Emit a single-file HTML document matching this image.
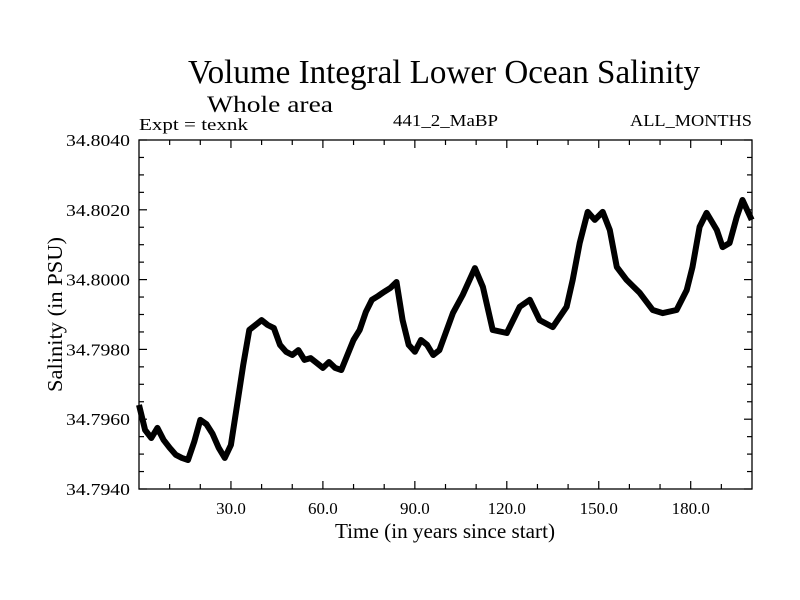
<!DOCTYPE html>
<html><head><meta charset="utf-8"><style>
body{margin:0;background:#fff;}
svg{display:block;font-family:"Liberation Serif",serif;}
</style></head><body>
<svg id="chart" width="800" height="600">
<text x="444" y="83" font-size="34" text-anchor="middle" textLength="512" lengthAdjust="spacingAndGlyphs">Volume Integral Lower Ocean Salinity</text>
<text x="207" y="112" font-size="23" textLength="126" lengthAdjust="spacingAndGlyphs">Whole area</text>
<text x="139" y="130" font-size="17" textLength="109" lengthAdjust="spacingAndGlyphs">Expt = texnk</text>
<text x="393" y="126" font-size="17" textLength="105" lengthAdjust="spacingAndGlyphs">441_2_MaBP</text>
<text x="630" y="126" font-size="17" textLength="122" lengthAdjust="spacingAndGlyphs">ALL_MONTHS</text>
<text x="335" y="538" font-size="21" textLength="220" lengthAdjust="spacingAndGlyphs">Time (in years since start)</text>
<text transform="translate(62,392) rotate(-90)" font-size="21" textLength="155" lengthAdjust="spacingAndGlyphs">Salinity (in PSU)</text>
<g id="axes"></g>
<path id="series" fill="none" stroke="#000" stroke-width="6" stroke-linejoin="round"></path>
<rect x="139" y="140" width="613" height="349" fill="none" stroke="#000" stroke-width="1.3"></rect>
</svg>
<script>
const years=[0,2,4,6,8,10,12,14,16,18,20,22,24,26,28,30,32,34,36,38,40,42,44,46,48,50,52,54,56,58,60,62,64,66,68,70,72,74,76,78,80,82,84,86,88,90,92,94,96,98,102.4,105.6,109.6,112.2,115.4,120,124.2,127.5,130.7,135,139.5,141.5,143.8,146.4,148.7,151.3,153.6,155.9,159.1,163.4,167.6,170.9,175.4,178.7,180.6,182.9,185.2,188.5,190.4,192.7,195,196.9,199.9];
const salinity=[34.79641,34.79569,34.79546,34.79575,34.79541,34.79518,34.79498,34.79489,34.79483,34.79535,34.79598,34.79586,34.79558,34.79518,34.79489,34.79526,34.79641,34.79755,34.79856,34.7987,34.79884,34.7987,34.79861,34.79813,34.79793,34.79784,34.79798,34.7977,34.79775,34.79761,34.79747,34.79764,34.79747,34.79741,34.79784,34.79827,34.79856,34.79907,34.79942,34.79953,34.79965,34.79976,34.79993,34.79884,34.79813,34.79793,34.79827,34.79813,34.79784,34.79798,34.79904,34.79956,34.80033,34.79979,34.79856,34.79847,34.79922,34.79942,34.79884,34.79864,34.79922,34.79999,34.80105,34.80194,34.80171,34.80194,34.80142,34.80036,34.79999,34.79962,34.79913,34.79904,34.79913,34.7997,34.80036,34.80151,34.80191,34.80142,34.80093,34.80105,34.80179,34.80228,34.80171];
const xTicks=[30,60,90,120,150,180];
const xTickLabels=["30.0","60.0","90.0","120.0","150.0","180.0"];
const yTicks=[34.794,34.796,34.798,34.800,34.802,34.804];
const yTickLabels=["34.7940","34.7960","34.7980","34.8000","34.8020","34.8040"];
const L=139,R=752,T=140,B=489,X0=0,X1=200,Y0=34.794,Y1=34.804;
const sx=v=>L+(v-X0)/(X1-X0)*(R-L);
const sy=v=>B-(v-Y0)/(Y1-Y0)*(B-T);
const NS="http://www.w3.org/2000/svg";
const ax=document.getElementById('axes');
function line(x1,y1,x2,y2,name){const l=document.createElementNS(NS,'line');l.setAttribute('x1',x1);l.setAttribute('y1',y1);l.setAttribute('x2',x2);l.setAttribute('y2',y2);l.setAttribute('stroke','#000');l.setAttribute('stroke-width','1.2');


ax.appendChild(l);}
function text(x,y,s,anchor,name,len){const t=document.createElementNS(NS,'text');t.setAttribute('x',x);t.setAttribute('y',y);t.setAttribute('font-size','17');t.setAttribute('text-anchor',anchor);if(len){t.setAttribute('textLength',len);t.setAttribute('lengthAdjust','spacingAndGlyphs');}t.textContent=s;


ax.appendChild(t);}
for(let v=10;v<200;v+=10){const x=sx(v);const len=(v%30===0)?8:5;line(x,B,x,B-len,'x-tick');line(x,T,x,T+len,'x-tick-top');}
xTicks.forEach((v,i)=>text(sx(v),514,xTickLabels[i],'middle','x-tick-label'));
for(let k=0;k<=20;k++){const v=Y0+k*0.0005;const y=sy(v);const len=(k%4===0)?8:5;line(L,y,L+len,y,'y-tick');line(R,y,R-len,y,'y-tick-right');}
yTicks.forEach((v,i)=>text(66,sy(v)+6,yTickLabels[i],'start','y-tick-label',64));
let d='';years.forEach((yr,i)=>{d+=(i?'L':'M')+sx(yr).toFixed(1)+','+sy(salinity[i]).toFixed(1);});
document.getElementById('series').setAttribute('d',d);
</script>
</body></html>
